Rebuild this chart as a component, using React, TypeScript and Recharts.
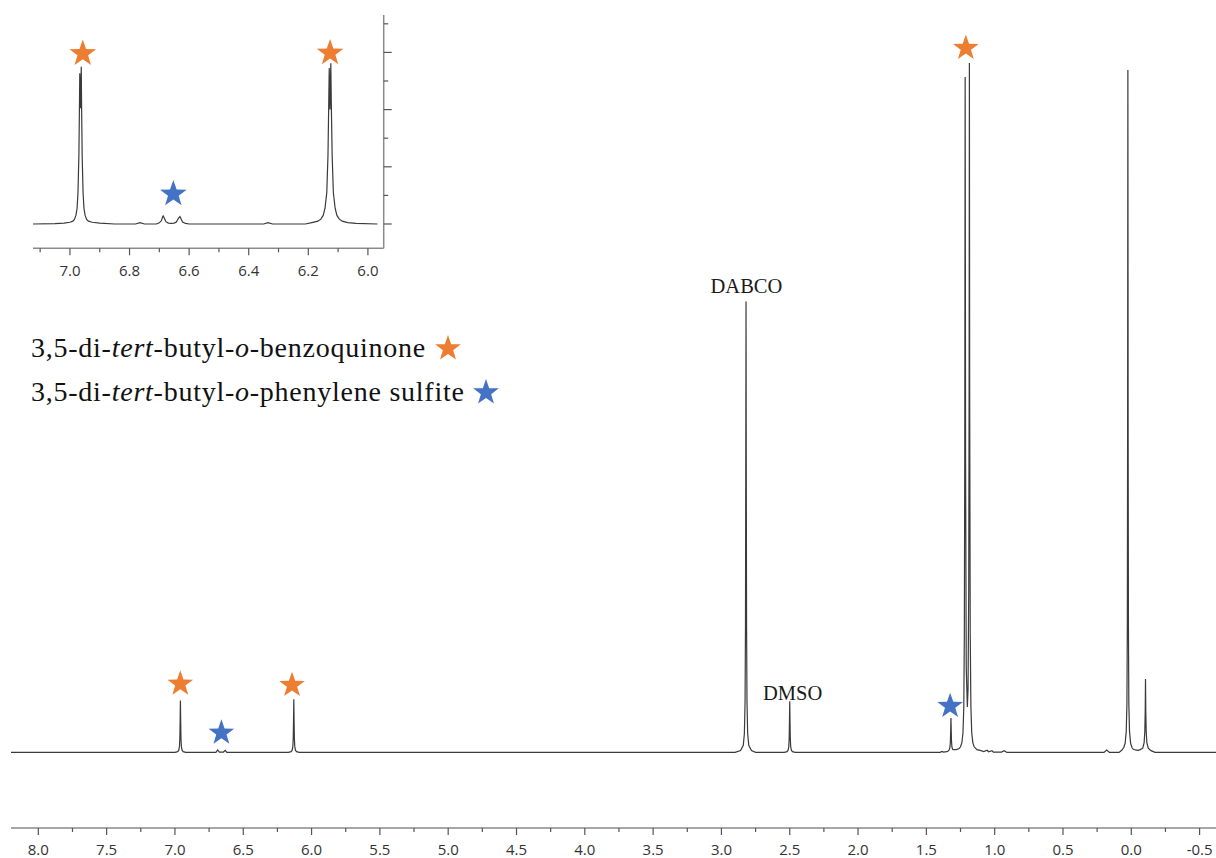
import React from "react";
import {
  ComposedChart, Line, Scatter, XAxis, YAxis, ReferenceDot,
} from "recharts";

// main spectrum (ppm, intensity)
const MAIN_PPM = [
  8.2, 7.0, 6.98, 6.972, 6.967, 6.964, 6.962, 6.96, 6.958, 6.956, 6.953, 6.948, 6.94, 6.92,
  6.7, 6.687, 6.675, 6.645, 6.632, 6.62,
  6.17, 6.15, 6.142, 6.137, 6.134, 6.132, 6.13, 6.128, 6.126, 6.123, 6.118, 6.11, 6.09,
  2.9, 2.86, 2.84, 2.832, 2.827, 2.824, 2.822, 2.82, 2.818, 2.816, 2.813, 2.808, 2.8, 2.78, 2.75,
  2.54, 2.52, 2.512, 2.507, 2.504, 2.502, 2.5, 2.498, 2.496, 2.493, 2.488, 2.48, 2.46,
  1.4, 1.385, 1.375, 1.35, 1.34, 1.332, 1.327, 1.324, 1.322, 1.32, 1.318, 1.316, 1.313, 1.308,
  1.3, 1.28, 1.26, 1.25, 1.24, 1.232, 1.226, 1.222, 1.219, 1.216, 1.213, 1.208, 1.2, 1.195, 1.19, 1.187, 1.185, 1.183, 1.179, 1.174, 1.168, 1.16, 1.15, 1.13, 1.1, 1.08,
  1.055, 1.045, 1.02, 1.01, 0.95, 0.93, 0.91,
  0.2, 0.18, 0.16,
  0.09, 0.07, 0.055, 0.045, 0.037, 0.032, 0.029, 0.027, 0.025, 0.023, 0.021, 0.018, 0.013, 0.005, -0.005, -0.015, -0.03, -0.05, -0.065,
  -0.084, -0.094, -0.099, -0.102, -0.104, -0.106, -0.109, -0.114, -0.124, -0.144, -0.174, -0.62,
];
const MAIN_INT = [
  0, 0, 0.11, 0.31, 0.84, 2.1, 4.5, 7.4, 4.5, 2.1, 0.84, 0.31, 0.11, 0,
  0, 0.35, 0.05, 0.05, 0.3, 0,
  0, 0.11, 0.32, 0.86, 2.1, 4.6, 7.6, 4.6, 2.1, 0.86, 0.32, 0.11, 0,
  0, 0.26, 1.0, 2.7, 7.3, 18, 39, 64.4, 39, 18, 7.3, 2.7, 1.0, 0.26, 0,
  0, 0.11, 0.31, 0.83, 2.0, 4.5, 7.3, 4.5, 2.0, 0.83, 0.31, 0.11, 0,
  0, 0.15, 0.05, 0.1, 0.2, 0.4, 0.8, 1.6, 3.1, 4.9, 3.1, 1.6, 0.8, 0.45,
  0.4, 0.4, 0.55, 0.8, 1.4, 2.8, 6.5, 17, 42, 96.5, 42, 12, 6.5, 9, 23, 52, 98.5, 52, 17, 6.5, 2.8, 1.4, 0.8, 0.4, 0.25, 0.12,
  0.3, 0.1, 0.25, 0.05, 0.05, 0.25, 0,
  0, 0.35, 0,
  0, 0.3, 0.7, 1.3, 3, 7, 18, 45, 97.5, 45, 18, 7, 3, 1.3, 0.7, 0.45, 0.35, 0.3, 0.4,
  0.6, 1.4, 3.0, 6, 10.5, 6, 3.0, 1.4, 0.6, 0.25, 0, 0,
];

// inset: 6.0 - 7.1 ppm zoom
const INSET_PPM = [
  7.124, 7.05, 7.02, 7.0, 6.99, 6.985, 6.98, 6.976, 6.973, 6.97, 6.968, 6.967, 6.9645, 6.962, 6.961, 6.959, 6.956, 6.953, 6.949, 6.944, 6.938, 6.925, 6.9, 6.85,
  6.78, 6.765, 6.75,
  6.71, 6.7, 6.693, 6.689, 6.687, 6.684, 6.678, 6.67, 6.66, 6.65, 6.643, 6.636, 6.631, 6.628, 6.622, 6.612, 6.6,
  6.35, 6.335, 6.32,
  6.21, 6.188, 6.168, 6.158, 6.15, 6.144, 6.138, 6.134, 6.1315, 6.1298, 6.1272, 6.1245, 6.1228, 6.12, 6.116, 6.11, 6.104, 6.096, 6.086, 6.068, 6.04, 5.968,
];
const INSET_INT = [
  0, 0.01, 0.03, 0.06, 0.1, 0.16, 0.3, 0.55, 1.1, 2.4, 4.2, 5.27, 4.05, 5.5, 4.2, 2.4, 1.1, 0.55, 0.3, 0.16, 0.1, 0.06, 0.03, 0,
  0, 0.05, 0,
  0, 0.04, 0.12, 0.25, 0.28, 0.22, 0.08, 0.03, 0.02, 0.03, 0.07, 0.2, 0.26, 0.2, 0.07, 0.02, 0,
  0, 0.05, 0,
  0, 0.05, 0.1, 0.17, 0.3, 0.55, 1.1, 2.4, 4.2, 5.45, 4.0, 5.62, 4.2, 2.4, 1.1, 0.55, 0.3, 0.17, 0.1, 0.05, 0.02, 0,
];

// star markers (ppm, height)
const QUINONE_MAIN = [[6.961, 9.8], [6.143, 9.6], [1.211, 100.6]];
const SULFITE_MAIN = [[6.66, 2.8], [1.326, 6.6]];
const QUINONE_INSET = [[6.957, 5.96], [6.127, 5.98]];
const SULFITE_INSET = [[6.653, 1.05]];

const PEAK_LABELS = ["DABCO", "DMSO"];
const PEAK_LABEL_PPM = [2.817, 2.479];
const PEAK_LABEL_Y = [65.6, 7.5];

const MAIN_TICKS = [
  8, 7.75, 7.5, 7.25, 7, 6.75, 6.5, 6.25, 6, 5.75, 5.5, 5.25, 5, 4.75, 4.5, 4.25, 4,
  3.75, 3.5, 3.25, 3, 2.75, 2.5, 2.25, 2, 1.75, 1.5, 1.25, 1, 0.75, 0.5, 0.25, 0, -0.25, -0.5,
];
const INSET_X_TICKS = [7.1, 7.0, 6.9, 6.8, 6.7, 6.6, 6.5, 6.4, 6.3, 6.2, 6.1, 6.0];
const INSET_Y_TICKS = [0, 1, 2, 3, 4, 5, 6, 7];

const ORANGE = "#ED7D31";
const BLUE = "#4472C4";
const LINE = "#3a3a3a";
const AXIS = "#8a8a8a";
const TICK_FONT = "'Segoe UI', 'Open Sans', sans-serif";
const SERIF = "'Liberation Serif', 'Times New Roman', serif";

const toPoints = (xs: number[], ys: number[]) => xs.map((x, i) => ({ x, y: ys[i] }));
const toDots = (pairs: number[][]) => pairs.map(([x, y]) => ({ x, y }));

const mainData = toPoints(MAIN_PPM, MAIN_INT);
const insetData = toPoints(INSET_PPM, INSET_INT);

function starPath(cx: number, cy: number, R: number) {
  const r = R * 0.4;
  let d = "";
  for (let i = 0; i < 10; i++) {
    const rad = i % 2 === 0 ? R : r;
    const a = -Math.PI / 2 + (i * Math.PI) / 5;
    d += (i ? "L" : "M") + (cx + rad * Math.cos(a)).toFixed(2) + "," + (cy + rad * Math.sin(a)).toFixed(2);
  }
  return d + "Z";
}

const starShape = (R: number, color: string) => (p: any) => (
  <path d={starPath(p.cx, p.cy, R)} fill={color} />
);

const isHalf = (v: number) => Math.abs(v * 2 - Math.round(v * 2)) < 1e-6;
const isFifth = (v: number) => Math.abs(v * 5 - Math.round(v * 5)) < 1e-6;

const xTick = (isMajor: (v: number) => boolean) => (props: any) => {
  const { x, y, payload } = props;
  const v = payload.value as number;
  const major = isMajor(v);
  return (
    <g>
      <line x1={x} x2={x} y1={y} y2={y + (major ? 7 : 4)} stroke="#555" strokeWidth={1.2} />
      {major && (
        <text x={x} y={y + 27.4} textAnchor="middle" fontSize={15} fill="#333" fontFamily={TICK_FONT}>
          {v.toFixed(1)}
        </text>
      )}
    </g>
  );
};

const yTickRight = (props: any) => {
  const { x, y, payload } = props;
  const major = payload.value % 2 === 0;
  return <line x1={x} x2={x + (major ? 8 : 4.5)} y1={y} y2={y} stroke="#555" strokeWidth={1.2} />;
};

function InlineStar({ color }: { color: string }) {
  return (
    <svg width={28} height={28} style={{ verticalAlign: "-4px" }}>
      <path d={starPath(14, 15.5, 13.5)} fill={color} />
    </svg>
  );
}

const legendStyle: React.CSSProperties = {
  position: "absolute",
  left: 31,
  fontFamily: SERIF,
  fontSize: 28,
  letterSpacing: "0.75px",
  lineHeight: "43px",
  color: "#111",
  whiteSpace: "nowrap",
};

export default function App() {
  return (
    <div style={{ position: "absolute", left: 0, top: 0, width: 1216, height: 858, background: "#fff" }}>
      <div style={{ position: "absolute", left: 0, top: 0 }}>
        <ComposedChart width={1216} height={858} margin={{ top: 30, right: 0, bottom: 0, left: 11 }}>
          <XAxis
            type="number"
            dataKey="x"
            domain={[-0.62, 8.2]}
            reversed
            allowDataOverflow
            ticks={MAIN_TICKS}
            interval={0}
            height={30}
            tickSize={0}
            tickMargin={0}
            tickLine={false}
            axisLine={{ stroke: AXIS, strokeWidth: 1.5 }}
            tick={xTick(isHalf)}
          />
          <YAxis type="number" dataKey="y" hide domain={[-10.8, 103.2]} allowDataOverflow />
          <Line
            data={mainData}
            dataKey="y"
            type="linear"
            stroke={LINE}
            strokeWidth={1.2}
            dot={false}
            isAnimationActive={false}
          />
          <Scatter data={toDots(QUINONE_MAIN)} fill={ORANGE} shape={starShape(13.5, ORANGE)} isAnimationActive={false} />
          <Scatter data={toDots(SULFITE_MAIN)} fill={BLUE} shape={starShape(13.5, BLUE)} isAnimationActive={false} />
          {PEAK_LABELS.map((t, i) => (
            <ReferenceDot
              key={t}
              x={PEAK_LABEL_PPM[i]}
              y={PEAK_LABEL_Y[i]}
              r={0}
              ifOverflow="visible"
              shape={(p: any) => (
                <text x={p.cx} y={p.cy} textAnchor="middle" fontSize={20.5} fontFamily={SERIF} fill="#1a1a1a">
                  {t}
                </text>
              )}
            />
          ))}
        </ComposedChart>
      </div>

      <div style={{ position: "absolute", left: 0, top: 0 }}>
        <ComposedChart width={400} height={290} margin={{ top: 15, right: 0, bottom: 0, left: 33 }}>
          <XAxis
            type="number"
            dataKey="x"
            domain={[5.947, 7.124]}
            reversed
            allowDataOverflow
            ticks={INSET_X_TICKS}
            interval={0}
            height={41.7}
            tickSize={0}
            tickMargin={0}
            tickLine={false}
            axisLine={{ stroke: AXIS, strokeWidth: 1.5 }}
            tick={xTick(isFifth)}
          />
          <YAxis
            type="number"
            dataKey="y"
            orientation="right"
            width={16.3}
            domain={[-0.85, 7.308]}
            allowDataOverflow
            ticks={INSET_Y_TICKS}
            interval={0}
            tickSize={0}
            tickMargin={0}
            tickLine={false}
            axisLine={{ stroke: AXIS, strokeWidth: 1.5 }}
            tick={yTickRight}
          />
          <Line
            data={insetData}
            dataKey="y"
            type="linear"
            stroke={LINE}
            strokeWidth={1.2}
            dot={false}
            isAnimationActive={false}
          />
          <Scatter data={toDots(QUINONE_INSET)} fill={ORANGE} shape={starShape(14, ORANGE)} isAnimationActive={false} />
          <Scatter data={toDots(SULFITE_INSET)} fill={BLUE} shape={starShape(14, BLUE)} isAnimationActive={false} />
        </ComposedChart>
      </div>

      <div style={{ ...legendStyle, top: 326.3 }}>
        3,5-di-<i>tert</i>-butyl-<i>o</i>-benzoquinone <InlineStar color={ORANGE} />
      </div>
      <div style={{ ...legendStyle, top: 369.7 }}>
        3,5-di-<i>tert</i>-butyl-<i>o</i>-phenylene sulfite <InlineStar color={BLUE} />
      </div>
    </div>
  );
}
